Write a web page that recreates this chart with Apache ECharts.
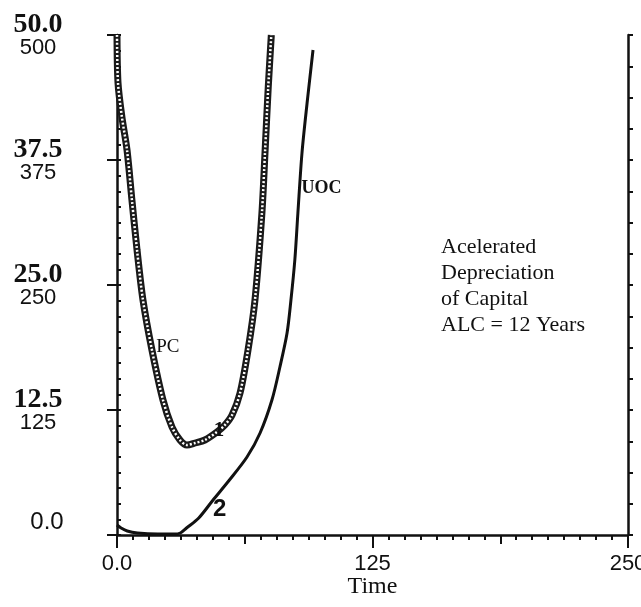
<!DOCTYPE html>
<html>
<head>
<meta charset="utf-8">
<script src="https://cdn.jsdelivr.net/npm/echarts@6/dist/echarts.min.js"></script>
<style>
  html, body { margin: 0; padding: 0; background: #fff; overflow: hidden; }
  #chart { width: 641px; height: 607px; }
</style>
</head>
<body>
<div id="chart"></div>
<script>
// Time axis and the two simulated variables
const timeRange = [0, 250];
const xTickLabels = ['0.0', '125', '250'];

// PC (price of capital), read on the 0–500 scale
const pcTime  = [0, 0.5, 2.4, 4.9, 7.3, 9.8, 12.7, 17.1, 22.5, 26.9, 30.8, 34.2, 38.2, 43, 48.9, 52.8, 56.3, 60.2, 64.1, 67.5, 70.9, 72.4, 74.0, 75.5];
const pcValue = [500, 452, 418, 385, 335, 285, 235, 185, 135, 108, 95, 90, 92, 95, 103, 110, 120, 142, 185, 235, 322, 382, 448, 500];

// UOC (unit operating cost), read on the 0–50 scale
const uocTime  = [0, 2, 5, 10, 20, 28, 31, 34, 40, 47, 55, 63.6, 70, 75.8, 79.7, 83.2, 85.1, 87, 88.5, 90.5, 93, 95.9];
const uocValue = [1.0, 0.7, 0.4, 0.2, 0.1, 0.1, 0.2, 0.7, 1.7, 3.5, 5.5, 7.8, 10.2, 13.5, 16.8, 20.2, 23.5, 27.5, 32.2, 38.2, 43.2, 48.5];

// Left axis tick labels: UOC scale over PC scale
const uocTicks = ['0.0', '12.5', '25.0', '37.5', '50.0'];
const pcTicks  = ['', '125', '250', '375', '500'];

const notes = ['Acelerated', 'Depreciation', 'of Capital', 'ALC = 12 Years'];

const pcSeries  = pcTime.map((t, i) => [t, pcValue[i]]);
const uocSeries = uocTime.map((t, i) => [t, uocValue[i]]);

const serif = '"Liberation Serif", "DejaVu Serif", serif';
const sans  = '"Liberation Sans", Arial, sans-serif';
const ink = '#111';

const chart = echarts.init(document.getElementById('chart'), null, { renderer: 'canvas', width: 641, height: 607 });

const option = {
  animation: false,
  backgroundColor: '#fff',
  grid: { left: 117, right: 13, top: 35, bottom: 72, containLabel: false, outerBoundsMode: 'none' },
  xAxis: [
    {
      type: 'value', min: timeRange[0], max: timeRange[1], interval: 125,
      axisLine: { show: true, onZero: false, lineStyle: { color: ink, width: 2.5 } },
      axisTick: { show: true, length: 13, lineStyle: { color: ink, width: 2 } },
      axisLabel: {
        margin: 18, color: ink, fontFamily: sans, fontSize: 22,
        formatter: v => xTickLabels[Math.round(v / 125)]
      },
      splitLine: { show: false },
      name: 'Time', nameLocation: 'middle', nameGap: 40, nameMoveOverlap: false,
      nameTextStyle: { fontFamily: serif, fontSize: 24, color: ink }
    },
    {
      type: 'value', min: 0, max: 250, interval: 62.5, position: 'bottom',
      axisLine: { show: false, onZero: false }, axisLabel: { show: false }, splitLine: { show: false },
      axisTick: { show: true, length: 9, lineStyle: { color: ink, width: 2 } }
    },
    {
      type: 'value', min: 0, max: 250, interval: 7.8125, position: 'bottom',
      axisLine: { show: false, onZero: false }, axisLabel: { show: false }, splitLine: { show: false },
      axisTick: { show: true, length: 5, lineStyle: { color: ink, width: 2 } }
    }
  ],
  yAxis: [
    {
      type: 'value', min: 0, max: 50, interval: 12.5, position: 'left',
      axisLine: { show: true, onZero: false, lineStyle: { color: ink, width: 2.5 } },
      axisTick: { show: true, length: 10, lineStyle: { color: ink, width: 2 } },
      splitLine: { show: false },
      axisLabel: {
        margin: 79, align: 'center', color: ink,
        formatter: v => {
          const i = Math.round(v / 12.5);
          return i === 0 ? '{z|' + uocTicks[0] + '}' : '{a|' + uocTicks[i] + '}\n{b|' + pcTicks[i] + '}';
        },
        rich: {
          a: { fontFamily: serif, fontWeight: 'bold', fontSize: 28, lineHeight: 25, color: ink },
          b: { fontFamily: sans, fontSize: 22, lineHeight: 21, color: ink },
          z: { fontFamily: sans, fontSize: 24, color: ink, padding: [0, 0, 26, 18] }
        }
      }
    },
    {
      type: 'value', min: 0, max: 50, interval: 1.5625, position: 'left',
      axisLine: { show: false, onZero: false }, axisLabel: { show: false }, splitLine: { show: false },
      axisTick: { show: true, inside: true, length: 4, lineStyle: { color: ink, width: 2 } }
    },
    {
      type: 'value', min: 0, max: 50, interval: 3.125, position: 'right',
      axisLine: { show: true, onZero: false, lineStyle: { color: ink, width: 2.5 } },
      axisLabel: { show: false }, splitLine: { show: false },
      axisTick: { show: true, length: 5, lineStyle: { color: ink, width: 2 } }
    },
    {
      type: 'value', min: 0, max: 500, show: false
    }
  ],
  series: [
    {
      name: 'UOC', type: 'line', xAxisIndex: 0, yAxisIndex: 0,
      data: uocSeries, smooth: 0.3, showSymbol: false,
      lineStyle: { color: ink, width: 3 }, z: 3
    },
    {
      name: 'PC', type: 'line', xAxisIndex: 0, yAxisIndex: 3,
      data: pcSeries, smooth: 0.3, showSymbol: false,
      lineStyle: { color: '#1a1a1a', width: 7 }, z: 4
    },
    {
      name: 'PC beads', type: 'line', xAxisIndex: 0, yAxisIndex: 3,
      data: pcSeries, smooth: 0.3, showSymbol: false,
      lineStyle: { color: '#fff', width: 2.5, type: [2, 2] }, z: 5
    }
  ]
};

chart.setOption(option);

// Curve labels, anchored in data space
const curveLabels = [
  { text: 'PC',  axis: 3, at: [24.9, 188], font: 'normal 19px ' + serif },
  { text: '1',   axis: 3, at: [49.9, 104], font: 'bold 21px ' + serif },
  { text: 'UOC', axis: 0, at: [100.0, 34.7], font: 'bold 18px ' + serif },
  { text: '2',   axis: 0, at: [50.2, 2.6], font: 'bold 24px ' + sans }
];

const graphics = curveLabels.map(l => {
  const p = chart.convertToPixel({ xAxisIndex: 0, yAxisIndex: l.axis }, l.at);
  return {
    type: 'text', x: p[0], y: p[1], z: 10,
    style: { text: l.text, font: l.font, fill: ink, align: 'center', verticalAlign: 'middle' }
  };
});

graphics.push({
  type: 'text', left: 441, top: 234, z: 10,
  style: { text: notes.join('\n'), font: 'normal 22px ' + serif, lineHeight: 26, fill: ink }
});

chart.setOption({ graphic: graphics });
</script>
</body>
</html>
